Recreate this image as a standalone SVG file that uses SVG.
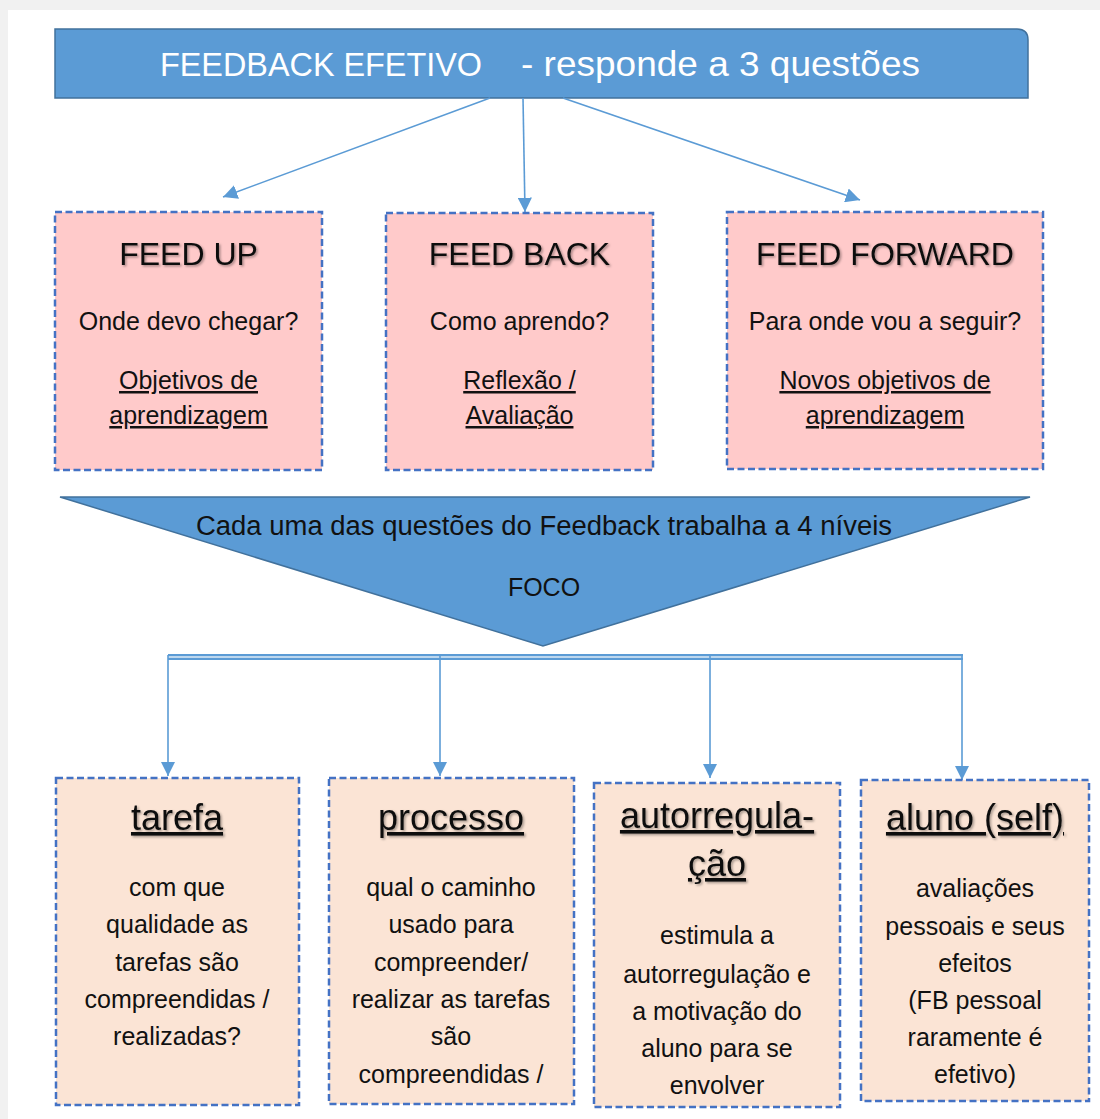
<svg xmlns="http://www.w3.org/2000/svg" width="1100" height="1119" viewBox="0 0 1100 1119">
<defs>
<style>
text{font-family:"Liberation Sans",Arial,sans-serif;fill:#111;text-anchor:middle}
.box{stroke:#4472C4;stroke-width:2.5;stroke-dasharray:7 3.5}
.top{fill:#FFCACA}
.bot{fill:#FBE4D5}
.blue{fill:#5B9BD5;stroke:#41719C;stroke-width:1.5}
.con{stroke:#5B9BD5;stroke-width:1.6;fill:none}
.title{font-size:32px;filter:url(#sh)}
.btitle{font-size:36px;text-decoration:underline;filter:url(#sh)}
.q{font-size:25px}
.u{font-size:25px;text-decoration:underline}
.b{font-size:25px}
</style>
<filter id="sh" x="-10%" y="-20%" width="120%" height="150%">
<feDropShadow dx="1.5" dy="1.5" stdDeviation="1" flood-color="#000" flood-opacity="0.35"/>
</filter>
<marker id="ah" viewBox="0 0 10 10" refX="10" refY="5" markerWidth="9" markerHeight="9" orient="auto" markerUnits="strokeWidth">
<path d="M0,0 L10,5 L0,10 z" fill="#5B9BD5"/>
</marker>
</defs>
<rect width="1100" height="1119" fill="#f1f1f1"/>
<rect x="8" y="10" width="1092" height="1109" fill="#ffffff"/>

<g id="banner">
<path class="blue" d="M55,29 H1017 Q1028,29 1028,40 V98 H55 Z"/>
<text x="160" y="76" style="font-size:33px;fill:#fff;text-anchor:start" textLength="322" lengthAdjust="spacingAndGlyphs">FEEDBACK EFETIVO</text>
<text x="521" y="76" style="font-size:35px;fill:#fff;text-anchor:start" textLength="399" lengthAdjust="spacingAndGlyphs">- responde a 3 questões</text>
</g>

<g id="connectors">
<line class="con" x1="490" y1="98" x2="223" y2="197" marker-end="url(#ah)"/>
<line class="con" x1="523" y1="98" x2="525" y2="212" marker-end="url(#ah)"/>
<line class="con" x1="563" y1="98" x2="860" y2="200" marker-end="url(#ah)"/>
<line x1="168" y1="655" x2="963" y2="655" stroke="#5B9BD5" stroke-width="2"/>
<line x1="168" y1="659" x2="963" y2="659" stroke="#5B9BD5" stroke-width="2"/>
<line x1="168" y1="657" x2="963" y2="657" stroke="#BDD7EE" stroke-width="2"/>
<line class="con" x1="168" y1="655" x2="168" y2="776" stroke-width="2" marker-end="url(#ah)"/>
<line class="con" x1="440" y1="655" x2="440" y2="776" stroke-width="2" marker-end="url(#ah)"/>
<line class="con" x1="710" y1="655" x2="710" y2="778" stroke-width="2" marker-end="url(#ah)"/>
<line class="con" x1="962" y1="655" x2="962" y2="780" stroke-width="2" marker-end="url(#ah)"/>
</g>

<g id="feed-up">
<rect class="box top" x="55" y="212" width="267" height="258"/>
<text class="title" x="188.5" y="265">FEED UP</text>
<text class="q" x="188.5" y="330">Onde devo chegar?</text>
<text class="u" x="188.5" y="389">Objetivos de</text>
<text class="u" x="188.5" y="424">aprendizagem</text>
</g>

<g id="feed-back">
<rect class="box top" x="386" y="213" width="267" height="257"/>
<text class="title" x="519.5" y="265">FEED BACK</text>
<text class="q" x="519.5" y="330">Como aprendo?</text>
<text class="u" x="519.5" y="389">Reflexão /</text>
<text class="u" x="519.5" y="424">Avaliação</text>
</g>

<g id="feed-forward">
<rect class="box top" x="727" y="212" width="316" height="257"/>
<text class="title" x="885" y="265">FEED FORWARD</text>
<text class="q" x="885" y="330">Para onde vou a seguir?</text>
<text class="u" x="885" y="389">Novos objetivos de</text>
<text class="u" x="885" y="424">aprendizagem</text>
</g>

<g id="foco">
<polygon class="blue" points="60,497 1030,497 543,646"/>
<text x="544" y="535" style="font-size:27px" textLength="696" lengthAdjust="spacingAndGlyphs">Cada uma das questões do Feedback trabalha a 4 níveis</text>
<text x="544" y="596" style="font-size:25px">FOCO</text>
</g>

<g id="tarefa">
<rect class="box bot" x="56" y="778" width="243" height="327"/>
<text class="btitle" x="177" y="830">tarefa</text>
<text class="b" x="177" y="896">com que</text>
<text class="b" x="177" y="933">qualidade as</text>
<text class="b" x="177" y="971">tarefas são</text>
<text class="b" x="177" y="1008">compreendidas /</text>
<text class="b" x="177" y="1045">realizadas?</text>
</g>

<g id="processo">
<rect class="box bot" x="329" y="778" width="245" height="326"/>
<text class="btitle" x="451" y="830">processo</text>
<text class="b" x="451" y="896">qual o caminho</text>
<text class="b" x="451" y="933">usado para</text>
<text class="b" x="451" y="971">compreender/</text>
<text class="b" x="451" y="1008">realizar as tarefas</text>
<text class="b" x="451" y="1045">são</text>
<text class="b" x="451" y="1083">compreendidas /</text>
</g>

<g id="autorregulacao">
<rect class="box bot" x="594" y="783" width="246" height="324"/>
<text class="btitle" x="717" y="828">autorregula-</text>
<text class="btitle" x="717" y="876">ção</text>
<text class="b" x="717" y="944">estimula a</text>
<text class="b" x="717" y="983">autorregulação e</text>
<text class="b" x="717" y="1020">a motivação do</text>
<text class="b" x="717" y="1057">aluno para se</text>
<text class="b" x="717" y="1094">envolver</text>
</g>

<g id="aluno">
<rect class="box bot" x="861" y="780" width="228" height="321"/>
<text class="btitle" x="975" y="830">aluno (self)</text>
<text class="b" x="975" y="897">avaliações</text>
<text class="b" x="975" y="935">pessoais e seus</text>
<text class="b" x="975" y="972">efeitos</text>
<text class="b" x="975" y="1009">(FB pessoal</text>
<text class="b" x="975" y="1046">raramente é</text>
<text class="b" x="975" y="1083">efetivo)</text>
</g>
</svg>
